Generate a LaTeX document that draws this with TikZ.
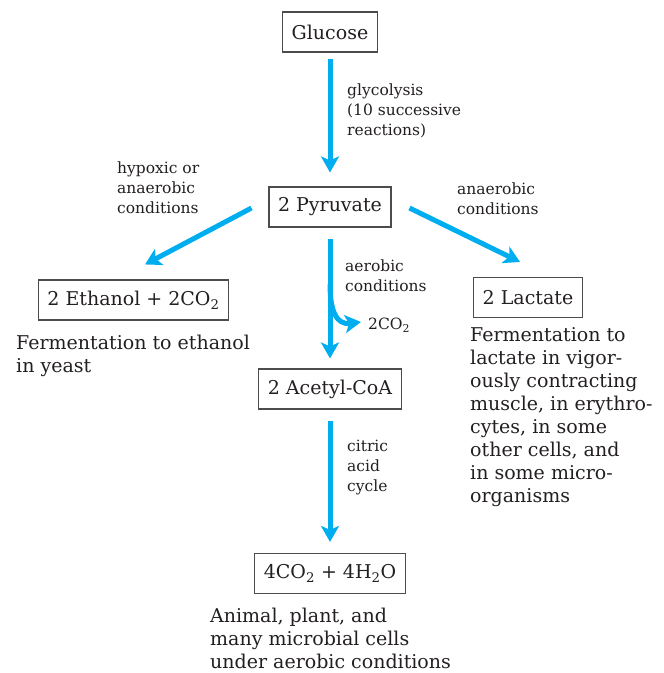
\documentclass[tikz,border=0pt]{standalone}
\usepackage{fontspec}
\setmainfont{DejaVu Serif}
\usetikzlibrary{arrows.meta}
\definecolor{flowcyan}{RGB}{0,174,239}
\definecolor{boxgray}{gray}{0.3}
\definecolor{inkgray}{RGB}{35,31,32}

\begin{document}
\begin{tikzpicture}[x=1pt,y=-1pt,
        box/.style={draw=boxgray, line width=1.1pt, inner xsep=9pt, minimum height=40pt,
            text=inkgray, font=\fontsize{19}{23}\selectfont},
        desc/.style={anchor=north west, inner sep=0pt, align=left, text=inkgray,
            font=\fontsize{19}{23}\selectfont},
        cond/.style={anchor=north west, inner sep=0pt, align=left, text=inkgray,
            font=\fontsize{15.5}{20}\selectfont},
        flow/.style={draw=flowcyan, line width=5pt,
            -{Stealth[length=16pt,width=18pt,inset=4pt]}}]
        \useasboundingbox (0,0) rectangle (664,673);

        % Boxes
        \node[box] (glu) at (330,32) {Glucose};
        \node[box] (pyr) at (330,207) {2 Pyruvate};
        \node[box] (eth) at (133.5,300) {2 Ethanol + 2CO\textsubscript{2}};
        \node[box] (lac) at (528,297.5) {2 Lactate};
        \node[box] (acoa) at (330,389) {2 Acetyl-CoA};
        \node[box] (fin) at (330,573.5) {4CO\textsubscript{2} + 4H\textsubscript{2}O};

        % Glycolysis
        \draw[flow, shorten <=6pt, shorten >=14pt] (glu) -- (pyr);
        \node[cond] (glylab) at (347,84) {glycolysis\\(10 successive\\reactions)};

        % Anaerobic branches
        \coordinate (l0) at ([shift={(-17,1)}]pyr.west);
        \coordinate (l1) at ([shift={(11.5,-15)}]eth.north);
        \draw[flow] (l0) -- (l1);
        \node[cond] (hyplab) at (117,162) {hypoxic or\\anaerobic\\conditions};

        \coordinate (r0) at ([shift={(18,1)}]pyr.east);
        \coordinate (r1) at ([shift={(-8,-15)}]lac.north);
        \draw[flow] (r0) -- (r1);
        \node[cond] (anlab) at (457,183) {anaerobic\\conditions};

        % Aerobic
        \draw[flow, shorten <=11pt, shorten >=10pt] (pyr) -- (acoa);
        \node[cond] (aerlab) at (345,260) {aerobic\\conditions};
        \coordinate (br) at (330,284);
        \coordinate (cotip) at (361,322);
        \draw[flow] (br) .. controls (330,312) and (337,325) .. (cotip);
        \node[cond, anchor=west] (co2) at (368,325) {2CO\textsubscript{2}};

        % Citric acid cycle
        \draw[flow, shorten <=11pt, shorten >=11pt] (acoa) -- (fin);
        \node[cond] (citlab) at (347,440) {citric\\acid\\cycle};

        % Descriptions
        \node[desc] (ethtxt) at (16,335) {Fermentation to ethanol\\in yeast};
        \node[desc] (lactxt) at (470,327) {Fermentation to\\lactate in vigor-\\ously contracting\\muscle, in erythro-\\cytes, in some\\other cells, and\\in some micro-\\organisms};
        \node[desc] (fintxt) at (210,608) {Animal, plant, and\\many microbial cells\\under aerobic conditions};
    \end{tikzpicture}
\end{document}
